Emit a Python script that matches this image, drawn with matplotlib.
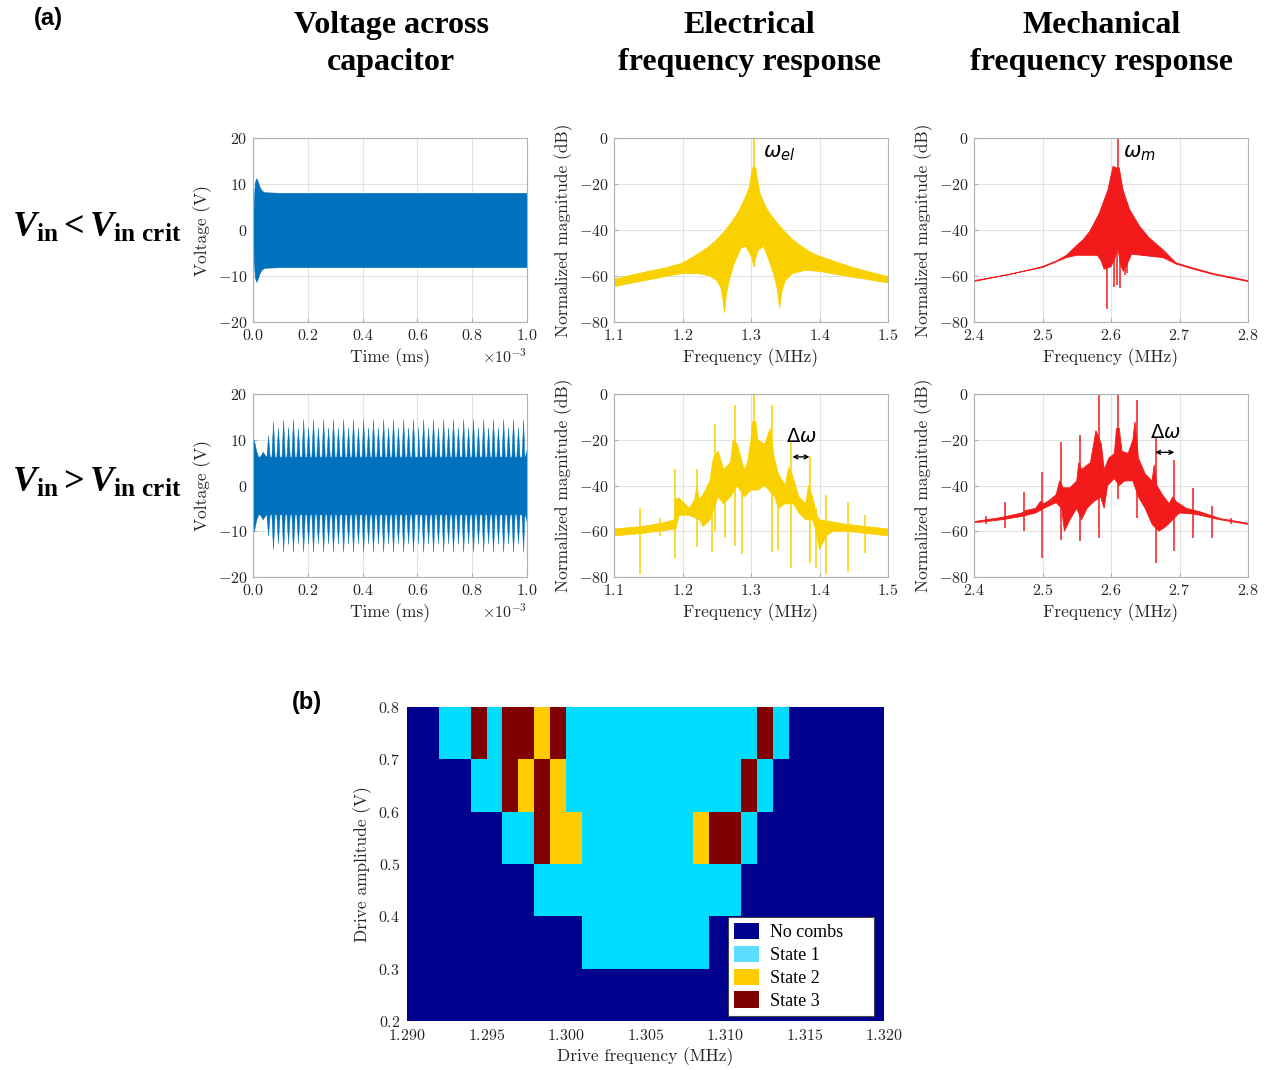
import numpy as np
import matplotlib
matplotlib.use("Agg")
import matplotlib.pyplot as plt
from matplotlib.colors import ListedColormap
from matplotlib.patches import Patch
from matplotlib.ticker import ScalarFormatter

# ---- data ----
# voltage, V_in < V_in crit : envelope (time in units of 1e-3)
v1_t = [0, 0.003, 0.007, 0.012, 0.018, 0.025, 0.032, 0.04, 0.05, 0.1, 1.0]
v1_amp = [0, 7, 10.5, 11.3, 10.5, 9.3, 8.6, 8.3, 8.2, 8.1, 8.1]

# voltage, V_in > V_in crit : early envelope, base band, beat spikes
v2_t = [0, 0.004, 0.012, 0.02, 0.028, 0.035, 0.042, 0.048, 0.6, 0.99, 1.0]
v2_amp = [10.2, 9.8, 7.5, 6.2, 6.6, 7.4, 6.8, 6.3, 6.3, 6.6, 8.2]
v2_spk_t = [0.055, 0.073, 0.091, 0.110, 0.128, 0.146, 0.164, 0.183, 0.201, 0.219,
            0.237, 0.256, 0.274, 0.292, 0.310, 0.329, 0.347, 0.365, 0.383, 0.402,
            0.420, 0.438, 0.456, 0.475, 0.493, 0.511, 0.529, 0.548, 0.566, 0.584,
            0.602, 0.621, 0.639, 0.657, 0.675, 0.694, 0.712, 0.730, 0.748, 0.767,
            0.785, 0.803, 0.821, 0.840, 0.858, 0.876, 0.894, 0.913, 0.931, 0.949,
            0.967, 0.986]
v2_spk_v = [11.0, 14.0, 12.6, 14.4, 12.8, 14.5, 12.6, 14.5, 12.7, 14.5,
            12.7, 14.5, 12.7, 14.5, 12.7, 14.5, 12.7, 14.5, 12.7, 14.5,
            12.7, 14.5, 12.7, 14.5, 12.7, 14.5, 12.7, 14.5, 12.7, 14.5,
            12.7, 14.5, 12.7, 14.5, 12.7, 14.5, 12.7, 14.5, 12.7, 14.5,
            12.7, 14.5, 12.7, 14.5, 12.7, 14.5, 12.7, 14.5, 12.7, 14.5,
            12.7, 14.5]

# electrical spectrum, below threshold (upper and lower edges of the band)
el1_fu = [1.10, 1.15, 1.175, 1.20, 1.225, 1.2375, 1.25, 1.262, 1.274, 1.281, 1.288, 1.293,
          1.298, 1.300, 1.302, 1.307, 1.309, 1.313, 1.320, 1.327, 1.337, 1.347, 1.360,
          1.371, 1.385, 1.395, 1.420, 1.444, 1.470, 1.50]
el1_up = [-61.4, -58, -56.5, -54.4, -50, -47.5, -44.2, -40.5, -35.6, -32.5, -28.3, -25,
          -21, -17, -13, -13, -17, -24, -29, -32.7, -36.5, -40, -44,
          -46.5, -49.3, -50.8, -53.5, -55.9, -58, -60.3]
el1_fl = [1.10, 1.15, 1.20, 1.225, 1.24, 1.25, 1.256, 1.259, 1.2615, 1.264, 1.268, 1.275,
          1.285, 1.292, 1.298, 1.302, 1.3045, 1.307, 1.31, 1.318, 1.325, 1.333, 1.338,
          1.342, 1.345, 1.35, 1.36, 1.38, 1.40, 1.444, 1.47, 1.50]
el1_lo = [-64.6, -61.7, -58.8, -59, -60, -62, -65, -70, -76, -68, -62, -55,
          -48, -47, -50, -53, -56, -52, -49, -47, -52, -59, -65,
          -74, -67, -62, -59, -57.5, -58, -60.3, -61.5, -63]
el1_spk = [(1.304, 0, -56)]

# mechanical spectrum, below threshold
m1_fu = [2.40, 2.45, 2.50, 2.52, 2.535, 2.549, 2.56, 2.569, 2.583, 2.5956, 2.603, 2.608,
         2.612, 2.6175, 2.627, 2.642, 2.656, 2.676, 2.695, 2.72, 2.75, 2.80]
m1_up = [-62, -59.5, -55.9, -53.5, -51, -47, -44, -40.6, -32.7, -22.5, -12.3, -13,
         -13, -22.5, -31, -38.5, -43.5, -48.6, -54.3, -56.5, -59, -62]
m1_fl = [2.40, 2.50, 2.535, 2.55, 2.58, 2.585, 2.59, 2.60, 2.606, 2.61, 2.614, 2.618,
         2.625, 2.63, 2.66, 2.676, 2.695, 2.72, 2.75, 2.80]
m1_lo = [-62.4, -56.3, -52, -51, -51, -53, -57, -56, -52, -48, -55, -58,
         -54, -50.5, -51.5, -52, -54.8, -57, -59.4, -62.4]
m1_spk = [(2.610, 0, -47), (2.5947, -40, -74.5), (2.604, -20, -64.6), (2.609, -13, -64),
          (2.6136, -20, -65.3), (2.620, -28, -59.5), (2.624, -30, -58.8)]

# electrical spectrum, above threshold
el2_fu = [1.10, 1.14, 1.17, 1.188, 1.19, 1.195, 1.21, 1.218, 1.221, 1.224, 1.23, 1.24,
          1.245, 1.252, 1.26, 1.27, 1.274, 1.28, 1.29, 1.295, 1.30, 1.302, 1.307, 1.31,
          1.32, 1.328, 1.334, 1.34, 1.35, 1.355, 1.36, 1.37, 1.38, 1.384, 1.39, 1.395,
          1.40, 1.42, 1.44, 1.47, 1.50]
el2_up = [-59, -58, -56.5, -55, -46, -45.5, -50, -46, -40, -46, -44, -38,
          -28, -25, -33, -30, -20, -22, -33, -30, -20, -12, -12, -20,
          -22, -15, -28, -35, -40, -32, -35, -45, -48, -40, -45, -52,
          -55, -56, -57, -58, -59]
el2_fl = [1.10, 1.14, 1.19, 1.195, 1.21, 1.225, 1.23, 1.24, 1.252, 1.26, 1.27, 1.28,
          1.29, 1.30, 1.31, 1.32, 1.335, 1.34, 1.35, 1.362, 1.37, 1.38, 1.39, 1.395,
          1.40, 1.405, 1.41, 1.42, 1.44, 1.47, 1.50]
el2_lo = [-62, -61, -59, -53, -53, -55, -58, -55, -45, -48, -45, -40,
          -45, -42, -42, -40, -45, -50, -48, -48, -52, -55, -55, -60,
          -68, -65, -62, -60, -60, -61, -62]
el2_spk = [(1.1384, -50, -78.7), (1.1667, -54, -62), (1.1886, -33, -71.7), (1.2212, -33, -67),
           (1.2436, -40, -69), (1.2480, -13, -60), (1.2616, -40, -63), (1.2760, -5, -66.6),
           (1.2870, -35, -70), (1.3040, 0, -40), (1.3310, -5, -69), (1.3390, -38, -68),
           (1.3580, -20.5, -76), (1.3866, -27.3, -74), (1.3950, -50, -76), (1.4100, -44, -78.7),
           (1.4416, -47, -78), (1.4670, -53, -69.5)]

# mechanical spectrum, above threshold
m2_fu = [2.40, 2.44, 2.47, 2.475, 2.49, 2.497, 2.502, 2.51, 2.52, 2.525, 2.53, 2.54,
         2.55, 2.553, 2.557, 2.57, 2.578, 2.586, 2.59, 2.597, 2.605, 2.608, 2.612, 2.616,
         2.625, 2.632, 2.635, 2.64, 2.65, 2.66, 2.663, 2.667, 2.675, 2.685, 2.69, 2.695,
         2.71, 2.73, 2.76, 2.80]
m2_up = [-55.8, -54, -52, -51, -50, -47, -48, -46.5, -44, -38, -41, -41,
         -38, -30, -33, -30, -16, -22, -33, -28, -26, -15, -15, -25,
         -26, -20, -12, -28, -35, -38, -31, -40, -44, -48, -45, -47,
         -50, -51.5, -54.5, -56.5]
m2_fl = [2.40, 2.44, 2.47, 2.49, 2.502, 2.52, 2.528, 2.532, 2.54, 2.55, 2.557, 2.565,
         2.575, 2.585, 2.59, 2.595, 2.605, 2.612, 2.62, 2.632, 2.64, 2.65, 2.66, 2.67,
         2.68, 2.69, 2.70, 2.72, 2.73, 2.76, 2.80]
m2_lo = [-56.3, -55, -53.5, -52, -50, -47.5, -50, -60, -55, -50, -55, -50,
         -47, -45, -50, -40, -37, -40, -38, -38, -45, -50, -57, -60,
         -58, -55, -52, -52.5, -53, -55, -57]
m2_spk = [(2.418, -53.5, -57), (2.4457, -47, -58.6), (2.4725, -43, -60), (2.4998, -34, -71.7),
          (2.5275, -21, -63.7), (2.5547, -18, -64.4), (2.5825, 0, -63), (2.6100, 0, -46),
          (2.6375, -2.6, -54), (2.6650, -18.6, -74), (2.6920, -28.8, -68.8), (2.7197, -41, -63),
          (2.7470, -49, -63), (2.7747, -54, -57)]

# comb-state map (rows from 0.2-0.3 V up to 0.7-0.8 V, columns 1.290..1.320 MHz, 1 kHz)
state_rows = [
    "000000000000000000000000000000",
    "000000000001111111100000000000",
    "000000001111111111111000000000",
    "000000113221111111233100000000",
    "000011323211111111111310000000",
    "001131332311111111111131000000",
]
state_names = ["No combs", "State 1", "State 2", "State 3"]

# ---- style ----
plt.rcParams["font.family"] = "serif"
plt.rcParams["font.serif"] = ["cmr10"]
plt.rcParams["mathtext.fontset"] = "cm"
plt.rcParams["axes.formatter.use_mathtext"] = True
plt.rcParams["mathtext.rm"] = "Liberation Serif:bold"
plt.rcParams["mathtext.it"] = "Liberation Serif:italic:bold"
plt.rcParams["mathtext.bf"] = "Liberation Serif:bold"

BLUE = "#0072BD"
YEL = "#F9D100"
RED = "#F21A1A"
W, H = 1271, 1070


def rect(l, t, r, b):
    return [l / W, 1 - b / H, (r - l) / W, (b - t) / H]


def style(ax):
    for s in ax.spines.values():
        s.set_color("#b0b0b0")
        s.set_linewidth(0.8)
    ax.tick_params(direction="in", length=3, color="#b0b0b0", labelcolor="#262626",
                   labelsize=11.5, pad=4)
    ax.grid(True, color="#e2e2e2", lw=0.8)
    ax.set_axisbelow(True)


def voltage(ax, t, up):
    t = np.array(t) * 1e-3
    up = np.array(up)
    ax.fill_between(t, up, -up, color=BLUE, lw=0.3, edgecolor=BLUE)
    ax.set_xlim(0, 1e-3)
    ax.set_ylim(-20, 20)
    ax.set_yticks([-20, -10, 0, 10, 20])
    ax.set_xticks(np.arange(0, 1.01e-3, 0.2e-3))
    fmt = ScalarFormatter(useMathText=True)
    fmt.set_powerlimits((-1, 1))
    ax.xaxis.set_major_formatter(fmt)
    ax.xaxis.get_offset_text().set_fontsize(11.5)
    ax.xaxis.get_offset_text().set_color("#262626")
    ax.set_xlabel("Time (ms)", fontsize=12.5, color="#262626")
    ax.set_ylabel("Voltage (V)", fontsize=12.5, color="#262626")
    style(ax)


def spectrum(ax, fu, up, fl, lo, spk, color, xlim):
    ax.fill(np.r_[fu, fl[::-1]], np.r_[up, lo[::-1]], color=color, lw=0.6)
    sf, sh, sl = zip(*spk)
    ax.vlines(sf, sl, sh, color=color, lw=1.1)
    ax.set_xlim(*xlim)
    ax.set_ylim(-80, 0)
    ax.set_yticks([-80, -60, -40, -20, 0])
    ax.set_xticks(np.round(np.arange(xlim[0], xlim[1] + 0.01, 0.1), 1))
    ax.set_xlabel("Frequency (MHz)", fontsize=12.5, color="#262626")
    ax.set_ylabel("Normalized magnitude (dB)", fontsize=12.5, color="#262626")
    style(ax)


fig = plt.figure(figsize=(W / 100, H / 100), dpi=100)

# voltage panels
ax1 = fig.add_axes(rect(253, 138, 527, 322))
voltage(ax1, v1_t, v1_amp)

pts = sorted(list(zip(v2_t, v2_amp)) +
             [p for ts, vs in zip(v2_spk_t, v2_spk_v)
              for p in ((ts - 0.006, 6.3), (ts, vs), (ts + 0.006, 6.3))])
ax4 = fig.add_axes(rect(253, 394, 527, 577))
voltage(ax4, [p[0] for p in pts], [p[1] for p in pts])

# spectra
ax2 = fig.add_axes(rect(614, 138, 888, 322))
spectrum(ax2, el1_fu, el1_up, el1_fl, el1_lo, el1_spk, YEL, (1.1, 1.5))
ax2.text(1.318, -6.5, r"$\omega_{el}$", math_fontfamily="dejavusans", fontsize=15,
         ha="left", va="center")

ax3 = fig.add_axes(rect(974, 138, 1248, 322))
spectrum(ax3, m1_fu, m1_up, m1_fl, m1_lo, m1_spk, RED, (2.4, 2.8))
ax3.text(2.617, -6.5, r"$\omega_{m}$", math_fontfamily="dejavusans", fontsize=15,
         ha="left", va="center")

ax5 = fig.add_axes(rect(614, 394, 888, 577))
spectrum(ax5, el2_fu, el2_up, el2_fl, el2_lo, el2_spk, YEL, (1.1, 1.5))
ax5.text(1.373, -19, r"$\Delta\omega$", math_fontfamily="dejavusans", fontsize=14,
         ha="center", va="center")
ax5.annotate("", xy=(1.3605, -27.5), xytext=(1.3855, -27.5),
             arrowprops=dict(arrowstyle="<->", color="k", lw=1.0, shrinkA=0, shrinkB=0,
                             mutation_scale=7))

ax6 = fig.add_axes(rect(974, 394, 1248, 577))
spectrum(ax6, m2_fu, m2_up, m2_fl, m2_lo, m2_spk, RED, (2.4, 2.8))
ax6.text(2.679, -17, r"$\Delta\omega$", math_fontfamily="dejavusans", fontsize=14,
         ha="center", va="center")
ax6.annotate("", xy=(2.6645, -25.5), xytext=(2.6925, -25.5),
             arrowprops=dict(arrowstyle="<->", color="k", lw=1.0, shrinkA=0, shrinkB=0,
                             mutation_scale=7))

# comb-state map
Z = np.array([[int(ch) for ch in row] for row in state_rows])
f_edges = np.linspace(1.290, 1.320, Z.shape[1] + 1)
a_edges = np.linspace(0.2, 0.8, Z.shape[0] + 1)
map_cols = ["#00008F", "#00DDFF", "#FFCC00", "#800000"]
leg_cols = ["#00008F", "#5CDCFF", "#FFCC00", "#800000"]
ax7 = fig.add_axes(rect(407, 707, 884, 1021))
ax7.pcolormesh(f_edges, a_edges, Z, cmap=ListedColormap(map_cols), vmin=-0.5, vmax=3.5)
ax7.set_xlim(1.290, 1.320)
ax7.set_ylim(0.2, 0.8)
ax7.set_xticks(np.linspace(1.290, 1.320, 7))
ax7.set_yticks(np.linspace(0.2, 0.8, 7))
ax7.xaxis.set_major_formatter(ScalarFormatter(useOffset=False, useMathText=True))
ax7.tick_params(length=0, labelsize=11.5, labelcolor="#262626", pad=5)
for s in ax7.spines.values():
    s.set_visible(False)
ax7.set_xlabel("Drive frequency (MHz)", fontsize=12.5, color="#262626", labelpad=3)
ax7.set_ylabel("Drive amplitude (V)", fontsize=12.5, color="#262626")
handles = [Patch(facecolor=c, edgecolor="none") for c in leg_cols]
leg = ax7.legend(handles, state_names, loc="lower left",
                 bbox_to_anchor=(0.673, 0.016, 0.306, 0.296), mode="expand",
                 borderaxespad=0, fancybox=False, framealpha=1, edgecolor="#444444",
                 prop={"family": "Liberation Serif", "size": 13}, handlelength=1.35,
                 handleheight=1.0, labelspacing=0.25, handletextpad=0.6, borderpad=0.35)
leg.get_frame().set_linewidth(0.8)

# headings
hfont = dict(family="Liberation Serif", weight="bold", fontsize=23, ha="center",
             va="center", linespacing=1.4)
fig.text(391 / W, 1 - 44 / H, "Voltage across\ncapacitor", **hfont)
fig.text(749 / W, 1 - 44 / H, "Electrical\nfrequency response", **hfont)
fig.text(1102 / W, 1 - 44 / H, "Mechanical\nfrequency response", **hfont)

fig.text(48 / W, 1 - 18 / H, "(a)", family="Liberation Sans", weight="bold", fontsize=17,
         ha="center", va="center")
fig.text(307 / W, 1 - 702 / H, "(b)", family="Liberation Sans", weight="bold", fontsize=17,
         ha="center", va="center")

fig.text(12 / W, 1 - 237 / H, r"$V_{\mathrm{in}} < V_{\mathrm{in\ crit}}$",
         math_fontfamily="custom", fontsize=26, ha="left", va="baseline")
fig.text(12 / W, 1 - 492 / H, r"$V_{\mathrm{in}} > V_{\mathrm{in\ crit}}$",
         math_fontfamily="custom", fontsize=26, ha="left", va="baseline")

fig.savefig("out.png", dpi=100, facecolor="white")
